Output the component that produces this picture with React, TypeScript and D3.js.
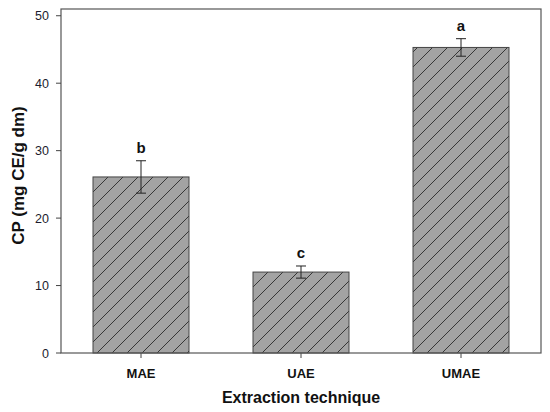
import React from "react";
import * as d3 from "d3";

const categories = ["MAE", "UAE", "UMAE"];
const values = [26.1, 12.0, 45.3];
const errors = [2.4, 0.9, 1.3];
const letters = ["b", "c", "a"];
const yTicks = [0, 10, 20, 30, 40, 50];

const W = 550;
const H = 412;
const margin = { left: 61, right: 9, top: 9, bottom: 59 };

export default function App() {
  const x = d3
    .scaleBand<string>()
    .domain(categories)
    .range([margin.left, W - margin.right])
    .paddingInner(0.4)
    .paddingOuter(0.2);
  const y = d3
    .scaleLinear()
    .domain([0, 51])
    .range([H - margin.bottom, margin.top]);
  const x0 = margin.left;
  const x1 = W - margin.right;
  const y0 = y(0);
  const yTop = margin.top;
  const font = "Arial, 'Liberation Sans', sans-serif";

  return (
    <svg
      width={W}
      height={H}
      style={{ position: "absolute", left: 0, top: 0, background: "#fff" }}
      fontFamily={font}
    >
      <defs>
        <pattern id="hatch" patternUnits="userSpaceOnUse" width={15} height={15}>
          <rect width={15} height={15} fill="#a3a3a3" />
          <path
            d="M-3.75,3.75 L3.75,-3.75 M0,15 L15,0 M11.25,18.75 L18.75,11.25"
            stroke="#2a2a2a"
            strokeWidth={0.9}
          />
        </pattern>
      </defs>
      {categories.map((c, i) => {
        const bx = x(c)!;
        const bw = x.bandwidth();
        const cx = bx + bw / 2;
        const v = values[i];
        const e = errors[i];
        return (
          <g key={c}>
            <rect
              x={bx}
              y={y(v)}
              width={bw}
              height={y0 - y(v)}
              fill="url(#hatch)"
              stroke="#444"
              strokeWidth={1}
            />
            <line x1={cx} x2={cx} y1={y(v + e)} y2={y(v - e)} stroke="#222" strokeWidth={1} />
            <line x1={cx - 5} x2={cx + 5} y1={y(v + e)} y2={y(v + e)} stroke="#222" strokeWidth={1} />
            <line x1={cx - 5} x2={cx + 5} y1={y(v - e)} y2={y(v - e)} stroke="#222" strokeWidth={1} />
            <text
              x={cx}
              y={y(v + e) - 7.5}
              textAnchor="middle"
              fontSize={15}
              fontWeight="bold"
              fill="#111"
            >
              {letters[i]}
            </text>
            <line x1={cx} x2={cx} y1={y0} y2={y0 + 5} stroke="#444" />
            <text
              x={cx}
              y={378}
              textAnchor="middle"
              fontSize={13}
              fontWeight="bold"
              fill="#111"
            >
              {c}
            </text>
          </g>
        );
      })}
      <rect x={x0} y={yTop} width={x1 - x0} height={y0 - yTop} fill="none" stroke="#555" strokeWidth={1.2} />
      {yTicks.map((t) => (
        <g key={t}>
          <line x1={x0 - 5} x2={x0} y1={y(t)} y2={y(t)} stroke="#444" />
          <text x={x0 - 12} y={y(t) + 4.5} textAnchor="end" fontSize={12.5} fill="#1c1c2e">
            {t}
          </text>
        </g>
      ))}
      <text
        transform={`translate(24,175.5) rotate(-90)`}
        textAnchor="middle"
        fontSize={17}
        fontWeight="bold"
        fill="#111"
      >
        CP (mg CE/g dm)
      </text>
      <text
        x={(x0 + x1) / 2}
        y={403}
        textAnchor="middle"
        fontSize={16}
        fontWeight="bold"
        fill="#111"
      >
        Extraction technique
      </text>
    </svg>
  );
}
